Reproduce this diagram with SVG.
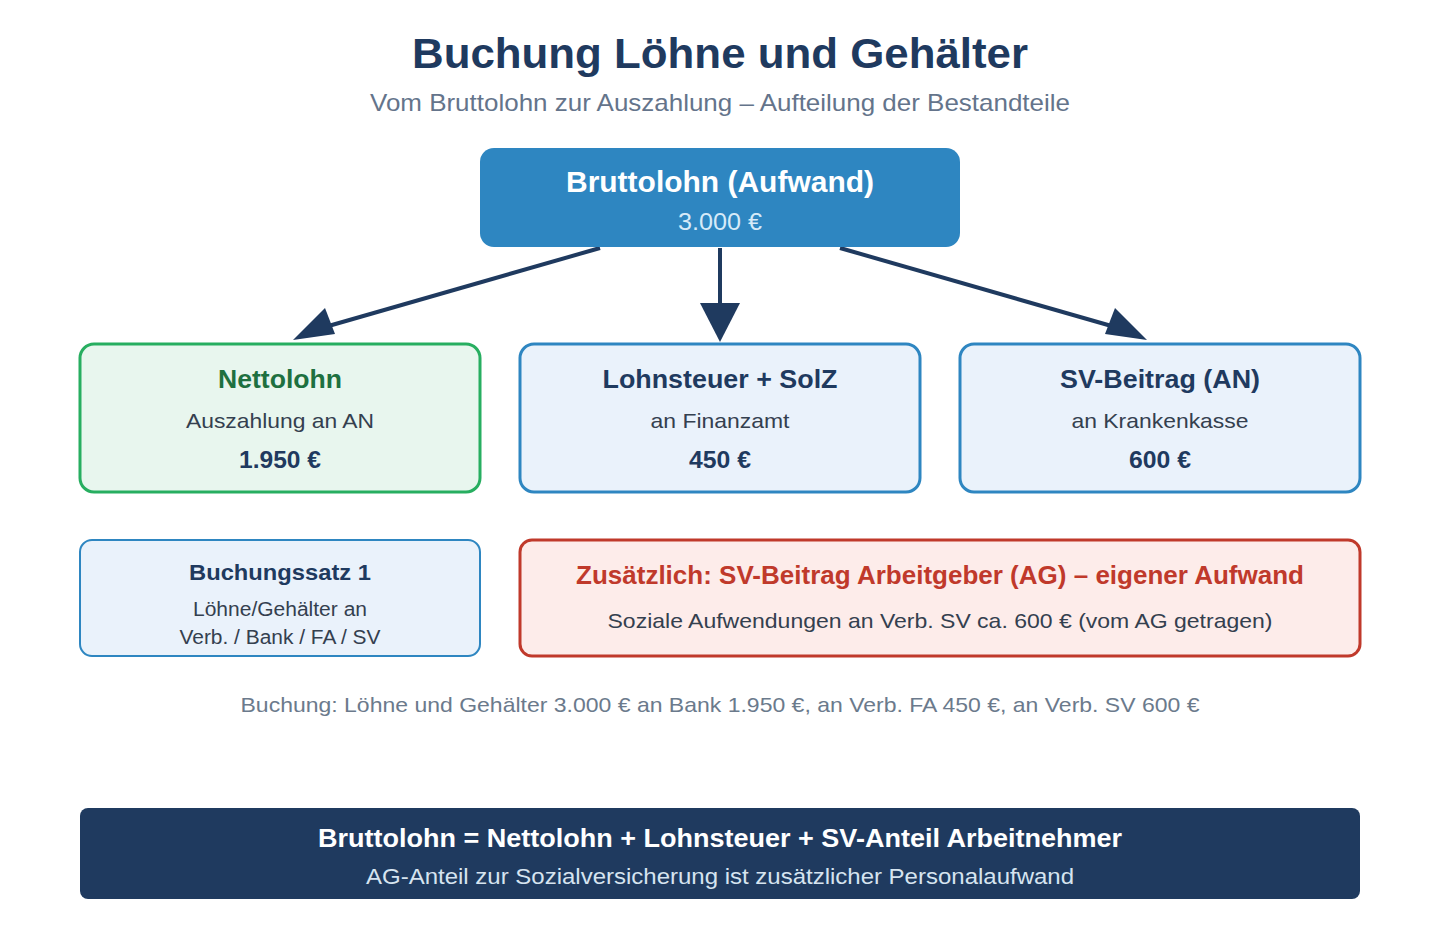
<svg xmlns="http://www.w3.org/2000/svg" width="1440" height="940" viewBox="0 0 1440 940">
<defs>
<style>
text{font-family:"Liberation Sans",Arial,sans-serif;text-anchor:middle}
.b{font-weight:bold}
.dark{fill:#1f3a5f}
.body{fill:#34404f}
.conn line{stroke:#1f3a5f;stroke-width:4}
.blue{fill:#eaf2fb;stroke:#2e86c1;stroke-width:3}
</style>
</defs>
<rect width="1440" height="940" fill="#ffffff"/>
<g id="title">
<text x="720" y="68" class="b dark" font-size="43" textLength="616" lengthAdjust="spacingAndGlyphs">Buchung Löhne und Gehälter</text>
<text x="720" y="111" font-size="24" fill="#64748b" textLength="700" lengthAdjust="spacingAndGlyphs">Vom Bruttolohn zur Auszahlung – Aufteilung der Bestandteile</text>
</g>
<g id="connectors" class="conn">
<line x1="600" y1="248" x2="325" y2="327"/>
<path d="M293,340 L325,308 L335,334 z" fill="#1f3a5f"/>
<line x1="720" y1="248" x2="720" y2="308"/>
<path d="M700,303 L740,303 L720,342 z" fill="#1f3a5f"/>
<line x1="840" y1="248" x2="1115" y2="327"/>
<path d="M1147,340 L1105,334 L1115,308 z" fill="#1f3a5f"/>
</g>
<g id="brutto">
<rect x="480" y="148" width="480" height="99" rx="14" fill="#2e86c1"/>
<text x="720" y="192" class="b" font-size="29" fill="#ffffff" textLength="308" lengthAdjust="spacingAndGlyphs">Bruttolohn (Aufwand)</text>
<text x="720" y="230" font-size="23" fill="#d6eaf8" textLength="84" lengthAdjust="spacingAndGlyphs">3.000 €</text>
</g>
<g id="netto">
<rect x="80" y="344" width="400" height="148" rx="14" fill="#e8f6ee" stroke="#27ae60" stroke-width="3"/>
<text x="280" y="388" class="b" font-size="25" fill="#1e7040" textLength="124" lengthAdjust="spacingAndGlyphs">Nettolohn</text>
<text x="280" y="428" font-size="21" class="body" textLength="188" lengthAdjust="spacingAndGlyphs">Auszahlung an AN</text>
<text x="280" y="468" class="b dark" font-size="23" textLength="82" lengthAdjust="spacingAndGlyphs">1.950 €</text>
</g>
<g id="lohnsteuer">
<rect x="520" y="344" width="400" height="148" rx="14" class="blue"/>
<text x="720" y="388" class="b dark" font-size="25" textLength="235" lengthAdjust="spacingAndGlyphs">Lohnsteuer + SolZ</text>
<text x="720" y="428" font-size="21" class="body" textLength="139" lengthAdjust="spacingAndGlyphs">an Finanzamt</text>
<text x="720" y="468" class="b dark" font-size="23" textLength="62" lengthAdjust="spacingAndGlyphs">450 €</text>
</g>
<g id="sv">
<rect x="960" y="344" width="400" height="148" rx="14" class="blue"/>
<text x="1160" y="388" class="b dark" font-size="25" textLength="200" lengthAdjust="spacingAndGlyphs">SV-Beitrag (AN)</text>
<text x="1160" y="428" font-size="21" class="body" textLength="177" lengthAdjust="spacingAndGlyphs">an Krankenkasse</text>
<text x="1160" y="468" class="b dark" font-size="23" textLength="62" lengthAdjust="spacingAndGlyphs">600 €</text>
</g>
<g id="buchungssatz">
<rect x="80" y="540" width="400" height="116" rx="12" fill="#eaf2fb" stroke="#2e86c1" stroke-width="2"/>
<text x="280" y="580" class="b dark" font-size="22.5" textLength="182" lengthAdjust="spacingAndGlyphs">Buchungssatz 1</text>
<text x="280" y="616" font-size="19.5" class="body" textLength="174" lengthAdjust="spacingAndGlyphs">Löhne/Gehälter an</text>
<text x="280" y="644" font-size="19.5" class="body" textLength="201" lengthAdjust="spacingAndGlyphs">Verb. / Bank / FA / SV</text>
</g>
<g id="ag">
<rect x="520" y="540" width="840" height="116" rx="12" fill="#fdecea" stroke="#c0392b" stroke-width="3"/>
<text x="940" y="584" class="b" font-size="25" fill="#c0392b" textLength="728" lengthAdjust="spacingAndGlyphs">Zusätzlich: SV-Beitrag Arbeitgeber (AG) – eigener Aufwand</text>
<text x="940" y="628" font-size="21" class="body" textLength="665" lengthAdjust="spacingAndGlyphs">Soziale Aufwendungen an Verb. SV ca. 600 € (vom AG getragen)</text>
</g>
<g id="buchung">
<text x="720" y="712" font-size="21" fill="#6b7a8c" textLength="959" lengthAdjust="spacingAndGlyphs">Buchung: Löhne und Gehälter 3.000 € an Bank 1.950 €, an Verb. FA 450 €, an Verb. SV 600 €</text>
</g>
<g id="formel">
<rect x="80" y="808" width="1280" height="91" rx="8" fill="#1f3a5f"/>
<text x="720" y="847" class="b" font-size="26" fill="#ffffff" textLength="804" lengthAdjust="spacingAndGlyphs">Bruttolohn = Nettolohn + Lohnsteuer + SV-Anteil Arbeitnehmer</text>
<text x="720" y="884" font-size="22.5" fill="#d6e4f0" textLength="708" lengthAdjust="spacingAndGlyphs">AG-Anteil zur Sozialversicherung ist zusätzlicher Personalaufwand</text>
</g>
</svg>
